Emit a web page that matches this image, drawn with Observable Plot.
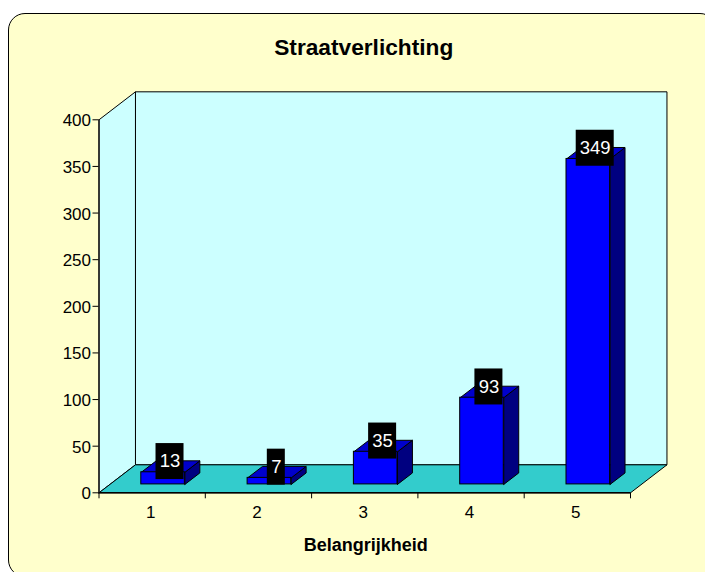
<!DOCTYPE html>
<html><head><meta charset="utf-8">
<script src="https://cdn.jsdelivr.net/npm/d3@7"></script>
<script src="https://cdn.jsdelivr.net/npm/@observablehq/plot@0.6"></script>
<style>
html,body{margin:0;padding:0;background:#fff;overflow:hidden}
#wrap{position:relative;width:705px;height:572px;overflow:hidden}
#panel{position:absolute;left:8px;top:13px;width:709px;height:564px;box-sizing:border-box;background:#FFFFCC;border:1.5px solid #000;border-radius:17px}
#chart{position:absolute;left:0;top:0}
</style></head><body>
<div id="wrap"><div id="panel"></div><div id="chart"></div></div>
<script>
const title = "Straatverlichting";
const xLabel = "Belangrijkheid";
const categories = [1, 2, 3, 4, 5];
const values = [13, 7, 35, 93, 349];
const yTicks = [0, 50, 100, 150, 200, 250, 300, 350, 400];
const xEdges = [0.5, 1.5, 2.5, 3.5, 4.5, 5.5];

// oblique projection of the 3D scene into the chart's data space
const skewX = 0.343, skewY = 30;
const P = (x, y, z) => ({x: x + skewX * z, y: y + skewY * z});
const barHalf = 0.205, z0 = 0.3, z1 = 0.71;
const poly = (id, pts) => [...pts, pts[0]].map(([x, y, z]) => ({id, ...P(x, y, z)}));

const backWall = poly("back", [[0.5,0,1],[5.5,0,1],[5.5,400,1],[0.5,400,1]]);
const sideWall = poly("side", [[0.5,0,0],[0.5,0,1],[0.5,400,1],[0.5,400,0]]);
const floor = poly("floor", [[0.5,0,0],[5.5,0,0],[5.5,0,1],[0.5,0,1]]);
const barSides = categories.flatMap((c, i) => poly(c, [
  [c+barHalf,0,z0],[c+barHalf,0,z1],[c+barHalf,values[i],z1],[c+barHalf,values[i],z0]]));
const barTops = categories.flatMap((c, i) => poly(c, [
  [c-barHalf,values[i],z0],[c+barHalf,values[i],z0],[c+barHalf,values[i],z1],[c-barHalf,values[i],z1]]));
const barFronts = categories.map((c, i) => ({
  x1: P(c-barHalf,0,z0).x, x2: P(c+barHalf,0,z0).x,
  y1: P(c,0,z0).y, y2: P(c,values[i],z0).y}));

const pxX = 5 / 531.5, pxY = 400 / 373;
const labels = categories.map((c, i) => {
  const s = String(values[i]);
  const p = P(c, values[i], 0.49);
  const w = s.length === 1 ? 18 : s.length === 2 ? 28 : 38;
  const cy = p.y + 5.4 * pxY;
  return {s, x: p.x, y: cy,
    x1: p.x - w/2*pxX, x2: p.x + w/2*pxX,
    y1: cy - 18*pxY, y2: cy + 18*pxY};
});

const faceLine = (rows, fill) => Plot.line(rows, {x:"x", y:"y", z:"id", fill, stroke:"#000", strokeWidth:1, curve:"linear"});

const plot = Plot.plot({
  width: 705, height: 572,
  marginLeft: 98.5, marginRight: 75, marginTop: 119.3, marginBottom: 79.7,
  style: {background:"transparent", fontFamily:"'Liberation Sans', Arial, sans-serif", fontSize:"16px", color:"#000"},
  x: {type:"linear", domain:[0.5,5.5]},
  y: {domain:[0,400]},
  marks: [
    faceLine(backWall, "#CCFFFF"),
    faceLine(sideWall, "#CCFFFF"),
    faceLine(floor, "#33CCCC"),
    faceLine(barSides, "#000080"),
    faceLine(barTops, "#0000CC"),
    Plot.rect(barFronts, {x1:"x1", x2:"x2", y1:"y1", y2:"y2", fill:"#0000FF", stroke:"#000", strokeWidth:1}),
    Plot.ruleX([0.5], {y1:0, y2:400, stroke:"#222", strokeWidth:1.5}),
    Plot.ruleY([0], {x1:0.5, x2:5.5, stroke:"#000", strokeWidth:1.5}),
    Plot.axisY({ticks:yTicks, tickSize:6, tickFormat:()=>"", label:null}),
    Plot.axisY({ticks:yTicks, tickSize:0, tickPadding:8, dy:1, fontSize:17, tickFormat:d=>String(d), label:null}),
    Plot.axisX({ticks:xEdges, tickSize:6, tickFormat:()=>"" , label:null}),
    Plot.axisX({ticks:categories, tickSize:0, tickPadding:13, dx:-1.5, fontSize:17, tickFormat:d=>String(d), label:null}),
    Plot.rect(labels, {x1:"x1", x2:"x2", y1:"y1", y2:"y2", fill:"#000"}),
    Plot.text(labels, {x:"x", y:"y", text:"s", fill:"#fff", fontSize:18.5}),
    Plot.text([xLabel], {frameAnchor:"bottom", dy:58, dx:1, text:d=>d, fontSize:18, fontWeight:"bold", fill:"#000"}),
    Plot.text([title], {frameAnchor:"top", dy:-81, dx:-1, text:d=>d, fontSize:22.7, fontWeight:"bold", fill:"#000"})
  ]
});
document.getElementById("chart").appendChild(plot);
</script>
</body></html>
